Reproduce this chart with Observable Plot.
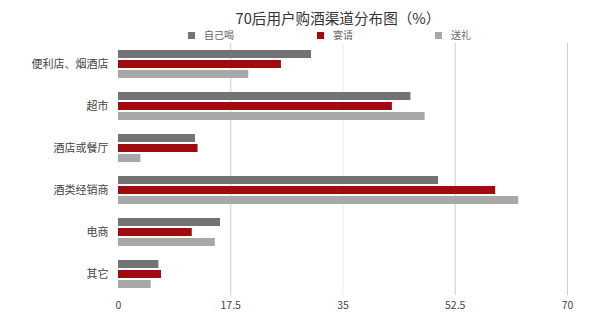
<!DOCTYPE html>
<html>
<head>
<meta charset="utf-8">
<script src="https://cdn.jsdelivr.net/npm/d3@7"></script>
<script src="https://cdn.jsdelivr.net/npm/@observablehq/plot@0.6"></script>
<style>
  html, body { margin: 0; padding: 0; background: #fff; }
  body { width: 600px; height: 321px; overflow: hidden; font-family: "Noto Sans CJK SC", "Noto Sans", sans-serif; }
  #wrap { position: relative; width: 600px; height: 321px; }
  #title { position: absolute; top: 7px; left: 0; width: 676px; text-align: center; font-size: 14.6px; color: #333; line-height: 22px; }
  .leg { position: absolute; top: 28px; font-size: 10px; color: #666; line-height: 14px; white-space: nowrap; }
  .leg i { display: inline-block; width: 7px; height: 7px; margin-right: 9px; vertical-align: 0px; }
  #chart { position: absolute; top: 40px; left: 0; }
</style>
</head>
<body>
<div id="wrap">
  <div id="title">70后用户购酒渠道分布图（%）</div>
  <div id="legend"></div>
  <div id="chart"></div>
</div>
<script>
const categories = ["便利店、烟酒店", "超市", "酒店或餐厅", "酒类经销商", "电商", "其它"];
const series = ["自己喝", "宴请", "送礼"];
const selfDrink = [30.1, 45.6, 12.0, 49.9, 15.9, 6.3];
const banquet = [25.4, 42.7, 12.4, 58.8, 11.5, 6.7];
const gift = [20.3, 47.8, 3.5, 62.4, 15.1, 5.1];
const xTicks = [0, 17.5, 35, 52.5, 70];
const colors = ["#737373", "#a00b10", "#a8a8a8"];

const values = [selfDrink, banquet, gift];
const rows = [];
categories.forEach((c, i) => {
  series.forEach((s, j) => rows.push({category: c, series: s, value: values[j][i]}));
});

const legendLefts = [188, 317, 435];
const legend = document.getElementById("legend");
series.forEach((s, j) => {
  const d = document.createElement("div");
  d.className = "leg";
  d.style.left = legendLefts[j] + "px";
  d.innerHTML = `<i style="background:${colors[j]}"></i>${s}`;
  legend.appendChild(d);
});

const chart = Plot.plot({
  width: 600,
  height: 281,
  marginLeft: 118,
  marginRight: 33,
  marginTop: 1,
  marginBottom: 25,
  style: {fontFamily: '"Noto Sans CJK SC", "Noto Sans", sans-serif', background: "#fff"},
  x: {domain: [0, 70]},
  y: {domain: series, axis: null, paddingInner: 0.21, paddingOuter: 0.58},
  fy: {domain: categories, padding: 0, label: null},
  color: {domain: series, range: colors},
  marks: [
    Plot.ruleX(xTicks.filter(d => d > 0), {stroke: d => d === 35 ? "#ececec" : "#cfcfcf", strokeWidth: 1}),
    Plot.barX(rows, {x: "value", y: "series", fy: "category", fill: "series"}),
    Plot.axisFy({anchor: "left", tickSize: 0, tickPadding: 10, fontSize: 11, color: "#444", label: null}),
    Plot.axisX({ticks: xTicks, tickSize: 0, tickPadding: 6, fontSize: 10.5, color: "#444", tickFormat: d => String(d), label: null})
  ]
});
document.getElementById("chart").appendChild(chart);
</script>
</body>
</html>
